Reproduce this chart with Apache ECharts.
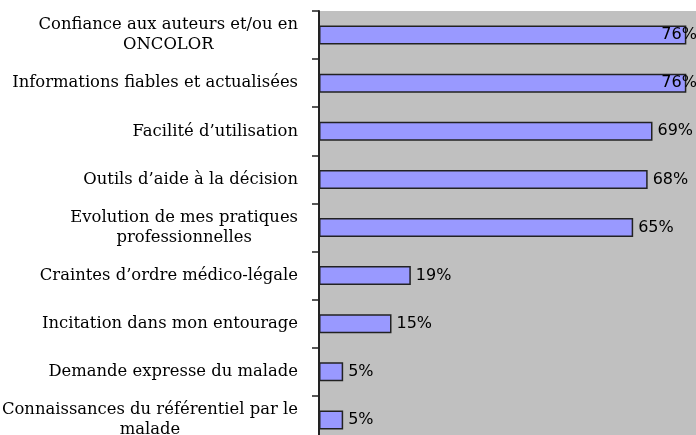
<!DOCTYPE html>
<html>
<head>
<meta charset="utf-8">
<script src="https://cdn.jsdelivr.net/npm/echarts@6/dist/echarts.min.js"></script>
<style>
  html, body { margin: 0; padding: 0; background: #ffffff; }
  #chart { width: 696px; height: 435px; }
</style>
</head>
<body>
<div id="chart"></div>
<script>
// Survey reasons, top to bottom, with their share of answers (%)
const categories = [
  'Confiance aux auteurs et/ou en\nONCOLOR',
  'Informations fiables et actualisées',
  'Facilité d’utilisation',
  'Outils d’aide à la décision',
  'Evolution de mes pratiques\nprofessionnelles',
  'Craintes d’ordre médico-légale',
  'Incitation dans mon entourage',
  'Demande expresse du malade',
  'Connaissances du référentiel par le\nmalade'
];
const shares = [76, 76, 69, 68, 65, 19, 15, 5, 5];
const xMax = 78;

const chart = echarts.init(document.getElementById('chart'), null, { renderer: 'canvas' });

// Long bars reaching the plot edge carry their label over the bar end
const barData = shares.map(function (v) {
  const item = { value: v };
  if (v > 70) {
    item.label = { offset: [-30, 0] };
  }
  return item;
});

chart.setOption({
  animation: false,
  backgroundColor: '#ffffff',
  grid: {
    left: 319,
    width: 377,
    top: 11,
    height: 433,
    show: true,
    backgroundColor: '#C0C0C0',
    borderWidth: 0,
    containLabel: false,
    outerBoundsMode: 'none'
  },
  xAxis: {
    type: 'value',
    min: 0,
    max: xMax,
    show: false
  },
  yAxis: {
    type: 'category',
    data: categories,
    inverse: true,
    axisLine: { show: true, lineStyle: { color: '#222222', width: 2 } },
    axisTick: { show: true, length: 7, lineStyle: { color: '#222222', width: 1.5 } },
    axisLabel: {
      margin: 21,
      align: 'right',
      formatter: function (txt) {
        return txt.split('\n').map(function (s) { return '{c|' + s + '}'; }).join('\n');
      },
      rich: {
        c: {
          fontFamily: 'DejaVu Serif',
          fontSize: 16.4,
          lineHeight: 20,
          color: '#000000',
          align: 'center'
        }
      }
    }
  },
  series: [{
    type: 'bar',
    data: barData,
    barWidth: 19,
    itemStyle: {
      color: '#9999FF',
      borderColor: '#222222',
      borderWidth: 1.5
    },
    label: {
      show: true,
      position: 'right',
      distance: 5,
      formatter: '{c}%',
      fontFamily: 'DejaVu Sans',
      fontSize: 16,
      color: '#000000'
    }
  }]
});
</script>
</body>
</html>
